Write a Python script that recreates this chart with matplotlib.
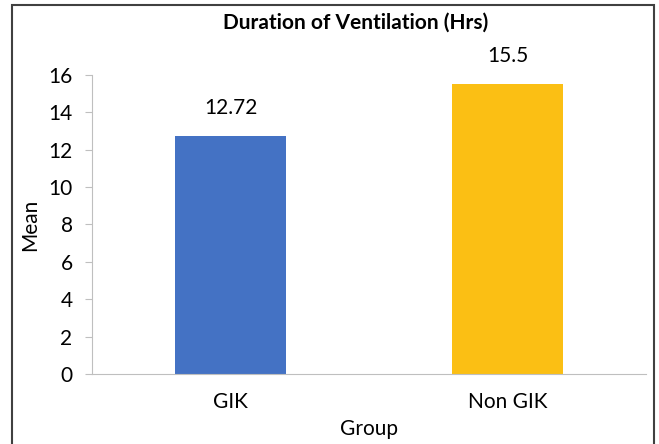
import matplotlib.pyplot as plt
from matplotlib.patches import Rectangle

groups = ["GIK", "Non GIK"]
means = [12.72, 15.5]
labels = ["12.72", "15.5"]
colors = ["#4472C4", "#FBBF14"]
yticks = [0, 2, 4, 6, 8, 10, 12, 14, 16]

plt.rcParams['font.family'] = ['Lato', 'DejaVu Sans']

fig = plt.figure(figsize=(6.59, 4.44), dpi=100)
ax = fig.add_axes([92 / 659, 70 / 444, (646 - 92) / 659, (374 - 75) / 444])

x = range(len(groups))
ax.bar(x, means, width=0.4, color=colors)
for xi, m, lab in zip(x, means, labels):
    ax.annotate(lab, (xi, m), xytext=(0, 13), textcoords="offset points",
                ha="center", va="bottom", fontsize=15)

ax.set_xlim(-0.5, 1.5)
ax.set_ylim(0, 16)
ax.set_yticks(yticks)
ax.set_xticks(list(x))
ax.set_xticklabels(groups, fontsize=15)
ax.tick_params(axis="y", labelsize=15, length=5, color="#BFBFBF", pad=9)
ax.tick_params(axis="x", length=0, pad=13)

for s in ["top", "right"]:
    ax.spines[s].set_visible(False)
ax.spines["left"].set_color("#BFBFBF")
ax.spines["bottom"].set_color("#BFBFBF")

ax.set_xlabel("Group", fontsize=15, labelpad=5)
ax.set_ylabel("Mean", fontsize=15, labelpad=6)
fig.text(356 / 659, 1 - 23 / 444, "Duration of Ventilation (Hrs)", ha="center",
         va="center", fontsize=15, fontweight="bold")

fig.patches.append(Rectangle((12 / 659, -0.05), (654 - 12) / 659, 1.05 - 5 / 444,
                             transform=fig.transFigure, fill=False,
                             edgecolor="#404040", linewidth=1.5))

fig.savefig("out.png", dpi=100)
